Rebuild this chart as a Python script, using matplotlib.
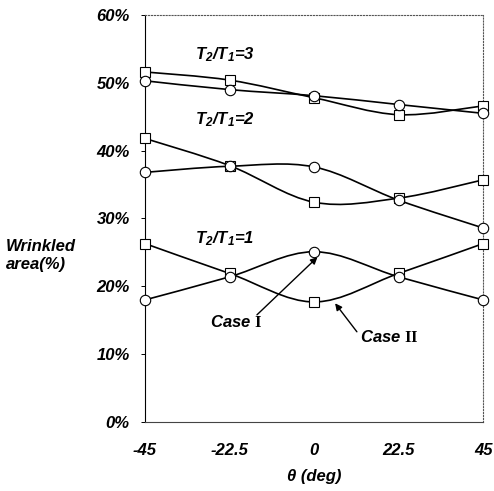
import matplotlib
matplotlib.use("Agg")
import matplotlib.pyplot as plt
from matplotlib.path import Path
from matplotlib.patches import PathPatch

plt.rcParams['font.family'] = ['Liberation Sans', 'DejaVu Sans']
plt.rcParams['mathtext.fontset'] = 'custom'
plt.rcParams['mathtext.rm'] = 'Liberation Serif:bold'
plt.rcParams['mathtext.default'] = 'regular'

theta = [-45, -22.5, 0, 22.5, 45]

# wrinkled area (%) for each tension ratio; sq = Case II (squares), ci = Case I (circles)
r3_sq = [51.6, 50.4, 47.8, 45.3, 46.6]
r3_ci = [50.3, 49.0, 48.1, 46.8, 45.5]
r2_sq = [41.8, 37.8, 32.4, 33.0, 35.7]
r2_ci = [36.8, 37.7, 37.6, 32.7, 28.6]
r1_sq = [26.3, 21.9, 17.7, 21.9, 26.3]
r1_ci = [18.0, 21.4, 25.1, 21.4, 18.0]

ratio_labels = [r"T$_2$/T$_1$=3", r"T$_2$/T$_1$=2", r"T$_2$/T$_1$=1"]
ratio_label_y = [54.1, 44.5, 27.1]

yticks = [0, 10, 20, 30, 40, 50, 60]
xticks = [-45, -22.5, 0, 22.5, 45]
xticklabels = ["-45", "-22.5", "0", "22.5", "45"]


def smooth_path(x, y):
    # Excel-like smoothed line (Catmull-Rom as cubic Bezier segments)
    pts = list(zip(x, y))
    verts = [pts[0]]
    codes = [Path.MOVETO]
    n = len(pts)
    for i in range(n - 1):
        p0 = pts[i - 1] if i > 0 else pts[i]
        p1 = pts[i]
        p2 = pts[i + 1]
        p3 = pts[i + 2] if i + 2 < n else pts[i + 1]
        c1 = (p1[0] + (p2[0] - p0[0]) / 6, p1[1] + (p2[1] - p0[1]) / 6)
        c2 = (p2[0] - (p3[0] - p1[0]) / 6, p2[1] - (p3[1] - p1[1]) / 6)
        verts += [c1, c2, p2]
        codes += [Path.CURVE4] * 3
    return Path(verts, codes)


fig = plt.figure(figsize=(4.94, 4.91), dpi=100)
ax = fig.add_axes([0.2935, 0.1405, 0.6845, 0.829])

series = [(r3_sq, 's'), (r3_ci, 'o'), (r2_sq, 's'), (r2_ci, 'o'), (r1_sq, 's'), (r1_ci, 'o')]
for vals, mk in series:
    ax.add_patch(PathPatch(smooth_path(theta, vals), facecolor='none',
                           edgecolor='black', lw=1.2, zorder=2))
    ax.plot(theta, vals, linestyle='none', marker=mk,
            markersize=7.5 if mk == 'o' else 7, markerfacecolor='white',
            markeredgecolor='black', markeredgewidth=0.8, zorder=3, clip_on=False)

ax.set_xlim(-45, 45)
ax.set_ylim(0, 60)
ax.set_yticks(yticks)
ax.set_yticklabels([f"{v}%" for v in yticks])
ax.set_xticks(xticks)
ax.set_xticklabels(xticklabels)
ax.tick_params(axis='y', direction='out', length=3, width=0.7, pad=8)
ax.tick_params(axis='x', length=0, pad=15)
for lab in ax.get_xticklabels() + ax.get_yticklabels():
    lab.set_fontsize(12)
    lab.set_fontweight('bold')
    lab.set_fontstyle('italic')

for side in ['top', 'right']:
    ax.spines[side].set_linestyle(':')
    ax.spines[side].set_color('#555555')
    ax.spines[side].set_linewidth(0.8)
ax.spines['left'].set_linewidth(0.8)
ax.spines['bottom'].set_color('#444444')
ax.spines['bottom'].set_linewidth(0.8)

fs = dict(fontsize=12, fontweight='bold', fontstyle='italic')
for lab, yy in zip(ratio_labels, ratio_label_y):
    ax.text(-31.7, yy, lab, ha='left', va='center', **fs)

ax.text(-27.7, 14.7, r"Case $\mathrm{I}$", ha='left', va='center', **fs)
ax.text(12.2, 12.5, r"Case $\mathrm{II}$", ha='left', va='center', **fs)
arrow = dict(arrowstyle='-|>', color='black', lw=1.0, mutation_scale=10,
             shrinkA=0, shrinkB=0)
ax.annotate('', xy=(0.9, 24.3), xytext=(-15.2, 15.8), arrowprops=arrow)
ax.annotate('', xy=(5.6, 17.5), xytext=(11.4, 13.3), arrowprops=arrow)

ax.set_xlabel(r"θ (deg)", fontsize=12, fontweight='bold', fontstyle='italic',
              labelpad=8)
fig.text(0.012, 0.48, "Wrinkled\narea(%)", ha='left', va='center',
         linespacing=1.3, **fs)

fig.savefig("out.png", dpi=100)
